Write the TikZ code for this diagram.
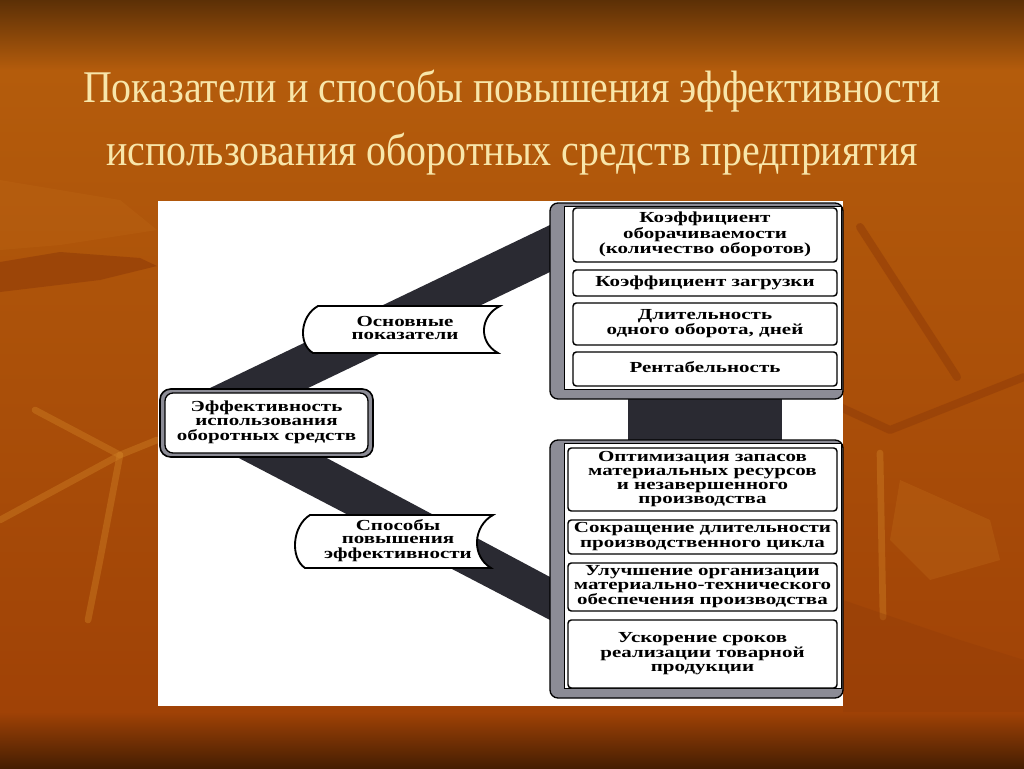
\documentclass[tikz,border=0pt]{standalone}
\usepackage{fontspec}
\setmainfont{Liberation Serif}
\usepackage{graphicx}
\definecolor{bgA}{RGB}{92,48,6}
\definecolor{bgB}{RGB}{180,92,12}
\definecolor{bgD}{RGB}{160,66,6}
\definecolor{bgE}{RGB}{70,30,2}
\definecolor{leafL}{RGB}{205,125,35}
\definecolor{leafD}{RGB}{145,60,8}
\definecolor{titlec}{RGB}{248,230,170}
\definecolor{bandc}{RGB}{42,42,50}
\definecolor{framec}{RGB}{140,140,150}
\newcommand\hs{1.37}
\newcommand\ml[1]{\scalebox{\hs}[1]{\begin{tabular}{@{}c@{}}#1\end{tabular}}}
\newcommand\tl[1]{\scalebox{0.88}[1]{#1}}
\tikzset{
  itembox/.style={draw=black, line width=1.1pt, rounded corners=2.5pt, fill=white, inner sep=0pt,
    font=\fontsize{11.5}{10.6}\selectfont\bfseries},
  frameouter/.style={draw=black, line width=1pt, rounded corners=6pt, fill=framec},
  frameinner/.style={draw=black, line width=0.6pt, fill=white},
  bandstyle/.style={fill=bandc},
  banner/.style={draw=black, line width=1.4pt, fill=white},
  labeltext/.style={font=\fontsize{11.5}{10.4}\selectfont\bfseries, inner sep=0pt},
  titletext/.style={font=\fontsize{34}{34}\selectfont, text=titlec, anchor=base},
  stalkL/.style={draw=leafL, line width=5pt, opacity=0.45, line cap=round, line join=round},
  stalkD/.style={draw=leafD, line width=6pt, opacity=0.55, line cap=round, line join=round},
}
\begin{document}
\begin{tikzpicture}[x=0.75pt,y=-0.75pt]
\useasboundingbox (0,0) rectangle (1024,768);
% background
\shade[top color=bgA, bottom color=bgB] (0,0) rectangle (1024,70);
\shade[top color=bgB, bottom color=bgD] (0,70) rectangle (1024,712);
\shade[top color=bgD, bottom color=bgE] (0,712) rectangle (1024,768);
% faint leaves
\fill[leafD, opacity=0.6] (0,262) -- (60,252) -- (140,258) -- (157,266) -- (100,280) -- (0,292) -- cycle;
\fill[leafL, opacity=0.15] (0,180) -- (120,200) -- (157,230) -- (60,245) -- (0,250) -- cycle;
\draw[stalkL] (35,410) -- (120,455) -- (157,440);
\draw[stalkL] (120,455) -- (100,560) -- (88,620);
\draw[stalkL] (0,520) -- (120,455);
\draw[stalkD] (860,227) -- (957,377);
\draw[stalkD] (840,407) -- (890,430) -- (1024,377);
\draw[stalkL] (880,453) -- (883,617);
\fill[leafL, opacity=0.22] (900,480) -- (990,520) -- (1000,560) -- (930,580) -- (890,540) -- cycle;
\fill[leafD, opacity=0.35] (843,600) -- (960,640) -- (1024,660) -- (1024,712) -- (843,712) -- cycle;
% title
\node[titletext] (t1) at (512,102) {\tl{Показатели и способы повышения эффективности}};
\node[titletext] (t2) at (512,165) {\tl{использования оборотных средств предприятия}};
% white panel
\fill[white] (158,201) rectangle (843,706);
% bands
\fill[bandstyle] (208,389) -- (550,225) -- (550,272) -- (306,389) -- cycle;
\fill[bandstyle] (235,456) -- (323,456) -- (550,577) -- (550,620) -- cycle;
\fill[bandstyle] (628,395) rectangle (782,442);
% frames
\draw[frameouter] (550,203) rectangle (843,399);
\draw[frameinner] (564,206) rectangle (841,389);
\draw[frameouter] (550,440) rectangle (843,698);
\draw[frameinner] (564,443) rectangle (841,688);
% top group items
\node[itembox, minimum width=198pt, minimum height=40.5pt] (k1) at (705,235) {\ml{Коэффициент\\оборачиваемости\\(количество оборотов)}};
\node[itembox, minimum width=198pt, minimum height=19.5pt] (k2) at (705,283) {\ml{Коэффициент загрузки}};
\node[itembox, minimum width=198pt, minimum height=31.5pt] (k3) at (705,324) {\ml{Длительность\\одного оборота, дней}};
\node[itembox, minimum width=198pt, minimum height=25.5pt] (k4) at (705,369) {\ml{Рентабельность}};
% bottom group items
\node[itembox, minimum width=201.75pt, minimum height=47.25pt] (s1) at (702.5,479.5) {\ml{Оптимизация запасов\\материальных ресурсов\\и незавершенного\\производства}};
\node[itembox, minimum width=201.75pt, minimum height=25.5pt] (s2) at (702.5,537) {\ml{Сокращение длительности\\производственного цикла}};
\node[itembox, minimum width=201.75pt, minimum height=36pt] (s3) at (702.5,587) {\ml{Улучшение организации\\материально-технического\\обеспечения производства}};
\node[itembox, minimum width=201.75pt, minimum height=51pt] (s4) at (702.5,654) {\ml{Ускорение сроков\\реализации товарной\\продукции}};
% left main box (double border)
\draw[draw=black, line width=1.2pt, rounded corners=8pt, fill=framec] (160,389) rectangle (373,457);
\draw[draw=black, line width=1pt, rounded corners=6pt, fill=white] (165,393) rectangle (368,453);
\node[labeltext] (eff) at (266.5,423) {\ml{Эффективность\\использования\\оборотных средств}};
% banners
\draw[banner] (318,306) -- (500,306) .. controls (480,316) and (478,342) .. (498,353) -- (313,353) .. controls (298,344) and (300,316) .. (318,306) -- cycle;
\node[labeltext] (osn) at (405,330) {\ml{Основные\\показатели}};
\draw[banner] (310,515) -- (493,515) .. controls (473,526) and (471,556) .. (491,568) -- (305,568) .. controls (290,558) and (292,526) .. (310,515) -- cycle;
\node[labeltext] (spo) at (398,541) {\ml{Способы\\повышения\\эффективности}};
\end{tikzpicture}
\end{document}
